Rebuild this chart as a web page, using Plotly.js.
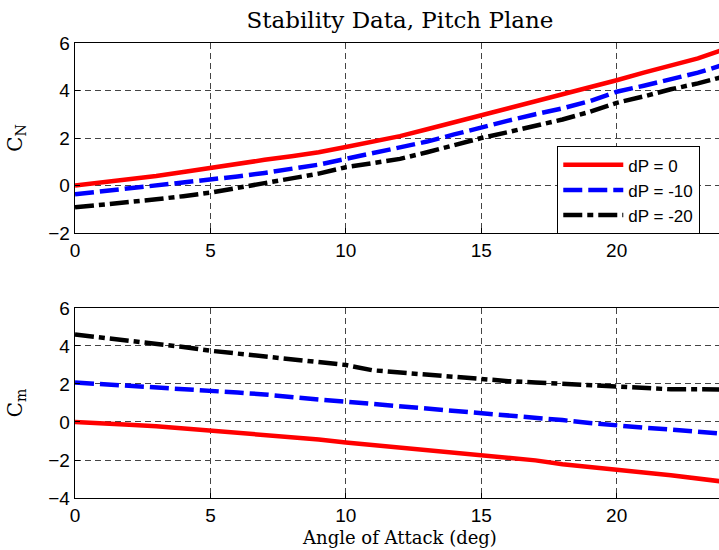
<!DOCTYPE html>
<html>
<head>
<meta charset="utf-8">
<script src="https://cdn.plot.ly/plotly-3.0.1.min.js"></script>
<style>
  html, body { margin: 0; padding: 0; background: #fff; overflow: hidden; }
  #wrap { width: 719px; height: 550px; overflow: hidden; }
  #chart { width: 726px; height: 550px; }
</style>
</head>
<body>
<div id="wrap"><div id="chart"></div></div>
<script>
// Angle of attack (deg)
const alpha = [0,1,2,3,4,5,6,7,8,9,10,11,12,13,14,15,16,17,18,19,20,21,22,23,24];

// Normal force coefficient C_N for each control deflection
const cnDp0   = [0.00,0.12,0.28,0.40,0.57,0.75,0.92,1.08,1.23,1.40,1.62,1.85,2.08,2.37,2.66,2.97,3.28,3.55,3.82,4.12,4.43,4.75,5.05,5.35,5.75];
const cnDp10  = [-0.37,-0.25,-0.12,-0.02,0.10,0.23,0.38,0.53,0.70,0.88,1.12,1.35,1.58,1.85,2.15,2.45,2.73,3.00,3.25,3.55,3.95,4.20,4.48,4.75,5.10];
const cnDp20  = [-0.92,-0.82,-0.70,-0.58,-0.45,-0.30,-0.10,0.10,0.30,0.50,0.77,0.95,1.12,1.40,1.70,2.00,2.25,2.50,2.78,3.10,3.48,3.75,4.05,4.30,4.60];

// Pitching moment coefficient C_m for each control deflection
const cmDp0   = [0.00,-0.10,-0.15,-0.22,-0.33,-0.42,-0.55,-0.68,-0.78,-0.92,-1.08,-1.22,-1.35,-1.48,-1.62,-1.75,-1.88,-2.02,-2.22,-2.38,-2.52,-2.66,-2.80,-2.97,-3.15];
const cmDp10  = [2.08,2.00,1.92,1.83,1.75,1.68,1.55,1.45,1.30,1.18,1.07,0.95,0.83,0.72,0.60,0.49,0.34,0.20,0.10,-0.05,-0.19,-0.30,-0.40,-0.50,-0.62];
const cmDp20  = [4.60,4.45,4.25,4.10,3.95,3.75,3.60,3.45,3.35,3.15,3.00,2.72,2.60,2.50,2.35,2.25,2.15,2.08,2.00,1.93,1.86,1.78,1.72,1.72,1.70];

const seriesNames = ['dP = 0', 'dP = -10', 'dP = -20'];
const xTicks = [0, 5, 10, 15, 20];
const cnTicks = [-2, 0, 2, 4, 6];
const cmTicks = [-4, -2, 0, 2, 4, 6];

const styles = [
  {color: '#ff0000', width: 4.5, dash: 'solid'},
  {color: '#0000ff', width: 4.5, dash: '19px,6px'},
  {color: '#000000', width: 4.5, dash: '19px,5px,6px,5px'}
];

const cnSets = [cnDp0, cnDp10, cnDp20];
const cmSets = [cmDp0, cmDp10, cmDp20];

const traces = [];
cnSets.forEach((y, i) => traces.push({
  x: alpha, y: y, type: 'scatter', mode: 'lines', name: seriesNames[i],
  line: styles[i], xaxis: 'x', yaxis: 'y', showlegend: true
}));
cmSets.forEach((y, i) => traces.push({
  x: alpha, y: y, type: 'scatter', mode: 'lines', name: seriesNames[i],
  line: styles[i], xaxis: 'x2', yaxis: 'y2', showlegend: false
}));

const sans = 'Liberation Sans, Arial, sans-serif';
const serif = 'DejaVu Serif, serif';

function axisBase() {
  return {
    showline: true, mirror: true, linecolor: '#000', linewidth: 1.3,
    ticks: 'inside', ticklen: 5, tickcolor: '#000',
    showgrid: true, gridcolor: '#444', gridwidth: 1, griddash: '6px,4px',
    zeroline: false, tickfont: {family: sans, size: 19, color: '#000'},
    automargin: false
  };
}

const layout = {
  width: 726, height: 550,
  margin: {l: 75, r: 1, t: 43, b: 52},
  paper_bgcolor: '#fff', plot_bgcolor: '#fff',
  showlegend: true,
  title: {
    text: 'Stability Data, Pitch Plane',
    font: {family: serif, size: 23, color: '#000'},
    x: 0.5, xref: 'paper', y: 1 - 20 / 550, yref: 'container', yanchor: 'middle'
  },
  xaxis: Object.assign(axisBase(), {
    domain: [0, 1], anchor: 'y', range: [0, 24], tickvals: xTicks
  }),
  yaxis: Object.assign(axisBase(), {
    domain: [0.5824, 1], anchor: 'x', range: [-2, 6], tickvals: cnTicks,
    title: {text: 'C<sub>N</sub>', font: {family: serif, size: 20, color: '#000'}, standoff: 20}
  }),
  xaxis2: Object.assign(axisBase(), {
    domain: [0, 1], anchor: 'y2', range: [0, 24], tickvals: xTicks,
    title: {text: 'Angle of Attack (deg)', font: {family: serif, size: 18, color: '#000'}, standoff: 6}
  }),
  yaxis2: Object.assign(axisBase(), {
    domain: [0, 0.4176], anchor: 'x2', range: [-4, 6], tickvals: cmTicks,
    title: {text: 'C<sub>m</sub>', font: {family: serif, size: 20, color: '#000'}, standoff: 20}
  }),
  legend: {
    x: 0.7415, y: 0.7736, xanchor: 'left', yanchor: 'top',
    bgcolor: '#fff', bordercolor: '#000', borderwidth: 1.3,
    font: {family: sans, size: 17, color: '#000'},
    itemwidth: 60, tracegroupgap: 0
  }
};

Plotly.newPlot('chart', traces, layout, {displayModeBar: false, staticPlot: true});
</script>
</body>
</html>
